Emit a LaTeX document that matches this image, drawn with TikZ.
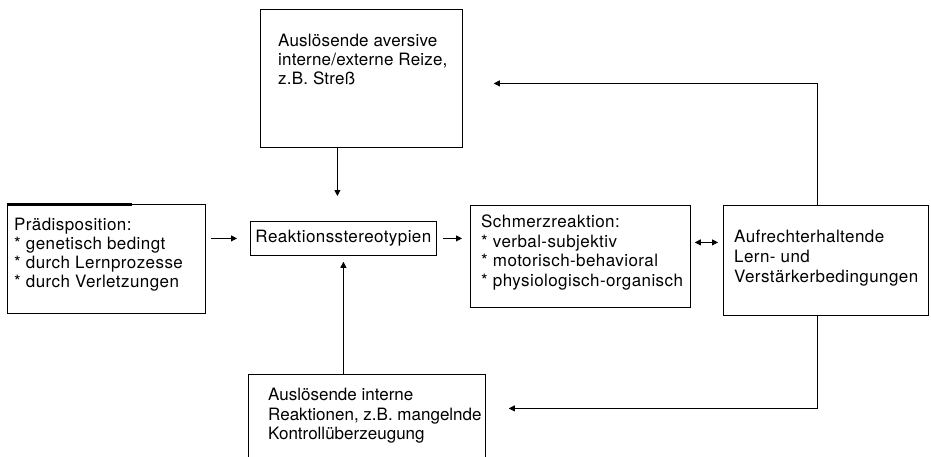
\documentclass[tikz,border=0pt]{standalone}
\usepackage{fontspec}
\setmainfont{TeX Gyre Heros}[LetterSpace=2.5]
\newfontfamily\narrowfont{TeX Gyre Heros}[LetterSpace=0]
\newfontfamily\midfont{TeX Gyre Heros}[LetterSpace=1.2]
\usetikzlibrary{arrows.meta,calc}
\begin{document}
\begin{tikzpicture}[x=1pt,y=-1pt,
  box/.style={draw, line width=0.8pt, inner sep=0pt, anchor=north west},
  txt/.style={anchor=north west, inner sep=0pt, align=left,
    font=\fontsize{17}{19}\selectfont},
  conn/.style={line width=0.8pt, -{Triangle[length=6pt,width=6pt]}},
  dconn/.style={line width=0.8pt, {Triangle[length=6pt,width=6pt]}-{Triangle[length=6pt,width=6pt]}},
]
\useasboundingbox (0,0) rectangle (931,456);
\clip (0,0) rectangle (931,456);

% boxes
\node[box, minimum width=202pt, minimum height=138pt] (trig) at (260,9) {};
\node[box, minimum width=198pt, minimum height=109pt] (praed) at (7,204) {};
\node[box, minimum width=186pt, minimum height=34pt,
      font=\fontsize{17}{19}\selectfont] (reakt) at (250,221) {Reaktionsstereotypien};
\node[box, minimum width=220pt, minimum height=102pt] (schmerz) at (470,205) {};
\node[box, minimum width=205pt, minimum height=110pt] (auf) at (723,205) {};
\node[box, minimum width=237pt, minimum height=100pt] (bot) at (248,374) {};

% heavier stroke along the top of the left box
\draw[line width=2.8pt] ($(praed.north west)+(0,0.2)$) -- ($(praed.north west)+(125,0.2)$);

% box texts
\node[txt, font=\midfont\fontsize{17}{19}\selectfont] (trigtxt) at (278,34) {Auslösende aversive\\interne/externe Reize,\\z.B. Streß};
\node[txt] (praedtxt) at (14,218) {Prädisposition:\\* genetisch bedingt\\* durch Lernprozesse\\* durch Verletzungen};
\node[txt, font=\fontsize{17}{19.5}\selectfont] (schmerztxt) at (481,215) {Schmerzreaktion:\\* verbal-subjektiv\\* motorisch-behavioral\\* physiologisch-organisch};
\node[txt, font=\fontsize{17}{20}\selectfont] (auftxt) at (734,230) {Aufrechterhaltende\\Lern- und\\Verstärkerbedingungen};
\node[txt, font=\narrowfont\fontsize{17}{19.5}\selectfont] (bottxt) at (268,388) {Auslösende interne\\Reaktionen, z.B. mangelnde\\Kontrollüberzeugung};

% connectors
\draw[conn] ([xshift=5pt]praed.east |- reakt.west) -- ([xshift=-13pt]reakt.west);
\draw[conn] ([xshift=6pt]reakt.east) -- ([xshift=-8pt]schmerz.west |- reakt.east);
\draw[dconn] ($(schmerz.east)+(4,-14)$) -- ($(auf.west |- schmerz.east)+(-5,-14)$);
\draw[conn] ($(trig.south)+(-24,0)$) -- ($(reakt.north)+(-6,-25)$);
\draw[conn] ($(bot.north)+(-23.5,0)$) -- ($(reakt.south)+(0,6)$);
\draw[conn] ($(auf.north)+(-8.5,0)$) |- ($(trig.east)+(31,5)$);
\draw[conn] ($(auf.south)+(-8.5,0)$) |- ($(bot.east)+(23,-16)$);
\end{tikzpicture}
\end{document}
